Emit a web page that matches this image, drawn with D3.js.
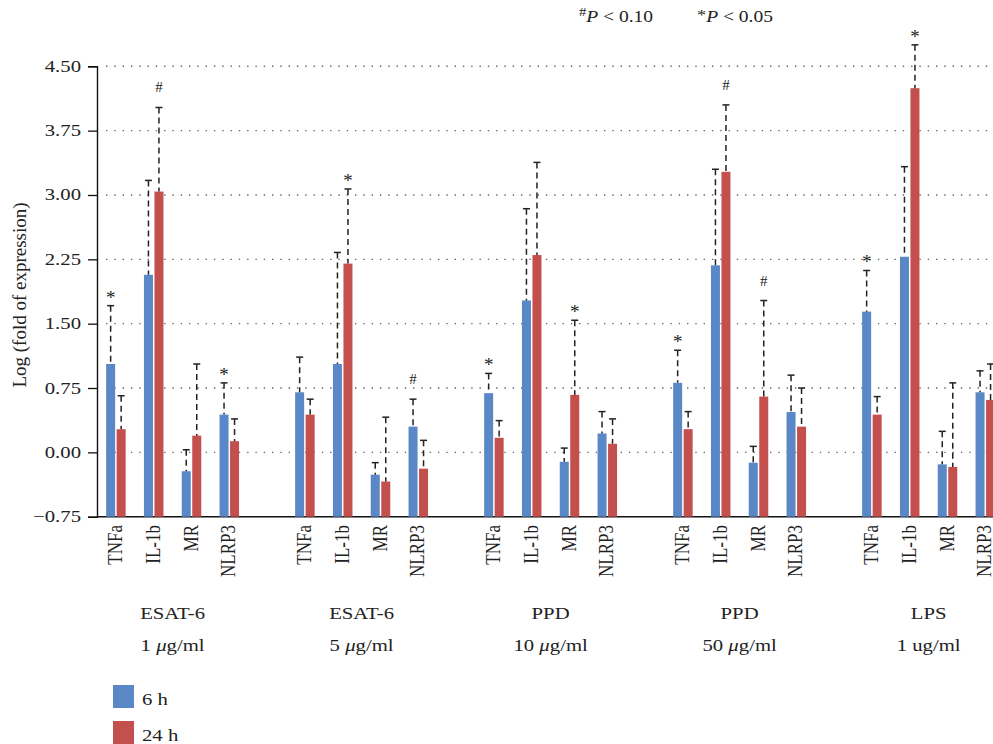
<!DOCTYPE html>
<html>
<head>
<meta charset="utf-8">
<script src="https://cdn.jsdelivr.net/npm/d3@7"></script>
<style>
  body { margin: 0; background: #fff; }
  text { font-family: "Liberation Serif", "DejaVu Serif", serif; fill: #222; }
</style>
</head>
<body>
<svg id="chart" width="993" height="744"></svg>
<script>
// groups (stimulus / dose) and genes
const groupNames = ["ESAT-6", "ESAT-6", "PPD", "PPD", "LPS"];
const groupDoses = ["1 μg/ml", "5 μg/ml", "10 μg/ml", "50 μg/ml", "1 ug/ml"];
const genes = ["TNFa", "IL-1b", "MR", "NLRP3"];
const series = ["6 h", "24 h"];
const yTicks = [-0.75, 0, 0.75, 1.5, 2.25, 3, 3.75, 4.5];

// mean log fold, one row per group, one value per gene
const mean6h = [
  [1.03, 2.07, -0.22, 0.44],
  [0.70, 1.03, -0.26, 0.30],
  [0.69, 1.77, -0.11, 0.22],
  [0.81, 2.18, -0.12, 0.47],
  [1.64, 2.28, -0.14, 0.70]
];
const mean24h = [
  [0.27, 3.04, 0.195, 0.13],
  [0.44, 2.20, -0.34, -0.19],
  [0.17, 2.30, 0.67, 0.10],
  [0.27, 3.27, 0.65, 0.30],
  [0.44, 4.245, -0.17, 0.61]
];
// upper error (SD)
const err6h = [
  [0.68, 1.10, 0.25, 0.37],
  [0.41, 1.30, 0.14, 0.32],
  [0.23, 1.07, 0.16, 0.255],
  [0.38, 1.12, 0.19, 0.43],
  [0.48, 1.05, 0.385, 0.25]
];
const err24h = [
  [0.39, 0.98, 0.835, 0.26],
  [0.18, 0.87, 0.75, 0.33],
  [0.20, 1.08, 0.87, 0.29],
  [0.205, 0.78, 1.12, 0.45],
  [0.21, 0.505, 0.98, 0.42]
];
// significance marks
const sig6h = [
  ["*", "", "", "*"],
  ["", "", "", "#"],
  ["*", "", "", ""],
  ["*", "", "", ""],
  ["*", "", "", ""]
];
const sig24h = [
  ["", "#", "", ""],
  ["", "*", "", ""],
  ["", "", "*", ""],
  ["", "#", "#", ""],
  ["", "*", "", ""]
];

const colors = ["#5A87C5", "#C4504E"];
const SX = 1.22; // horizontal stretch of the lettering

const svg = d3.select("#chart");
const mLeft = 97, mTop = 66.3, mBottom = 516.7;

const groupKeys = groupNames.map((d, i) => "g" + i);
const x0 = d3.scaleBand().domain(groupKeys).range([mLeft, mLeft + 945]);
const slot = x0.bandwidth() / 5;
const x1 = d3.scaleBand().domain(genes).range([0, slot * 4]);
const x2 = d3.scaleBand().domain(series).range([0, slot])
  .paddingInner(0.143).paddingOuter(0.87);
const y = d3.scaleLinear().domain([-0.75, 4.5]).range([mBottom, mTop]);

// flat rows
const rows = [];
groupKeys.forEach((g, gi) => {
  genes.forEach((gene, ci) => {
    rows.push({ g, gene, s: series[0], v: mean6h[gi][ci], e: err6h[gi][ci], sig: sig6h[gi][ci], c: colors[0] });
    rows.push({ g, gene, s: series[1], v: mean24h[gi][ci], e: err24h[gi][ci], sig: sig24h[gi][ci], c: colors[1] });
  });
});

function htext(sel, x, yy, str, size, anchor) {
  return sel.append("text")
    .attr("transform", "translate(" + x + "," + yy + ") scale(" + SX + ",1)")
    .attr("text-anchor", anchor || "start")
    .attr("font-size", size + "px")
    .text(str);
}

// dotted grid
svg.append("g").selectAll("line")
  .data(yTicks.filter(t => t > -0.75))
  .join("line")
  .attr("x1", mLeft + 9).attr("x2", 993)
  .attr("y1", d => y(d)).attr("y2", d => y(d))
  .attr("stroke", "#666")
  .attr("stroke-width", 1.4)
  .attr("stroke-dasharray", "1.4 6.9");

// y axis
const yAxis = svg.append("g")
  .attr("transform", "translate(" + mLeft + ",0)")
  .call(d3.axisLeft(y).tickValues(yTicks).tickSize(9).tickFormat(""));
yAxis.select(".domain").attr("stroke", "#111").attr("stroke-width", 1.4);
yAxis.selectAll(".tick line").attr("stroke", "#111").attr("stroke-width", 1.3);
yAxis.selectAll(".tick").each(function(d) {
  const lab = d < 0 ? "\u22120.75" : d3.format(".2f")(d);
  htext(svg, mLeft - 16, y(d) + 5.5, lab, 17, "end");
});

// x axis base line
svg.append("line")
  .attr("x1", mLeft).attr("x2", 993)
  .attr("y1", mBottom).attr("y2", mBottom)
  .attr("stroke", "#111").attr("stroke-width", 1.6);

// bars
const bx = d => x0(d.g) + x1(d.gene) + x2(d.s);
svg.append("g").selectAll("rect")
  .data(rows)
  .join("rect")
  .attr("x", bx)
  .attr("width", x2.bandwidth())
  .attr("y", d => y(d.v))
  .attr("height", d => mBottom - y(d.v))
  .attr("fill", d => d.c);

// error bars
const eb = svg.append("g");
const cx = d => bx(d) + x2.bandwidth() / 2;
eb.selectAll("line.err")
  .data(rows)
  .join("line")
  .attr("class", "err")
  .attr("x1", cx).attr("x2", cx)
  .attr("y1", d => y(d.v + d.e)).attr("y2", d => y(d.v))
  .attr("stroke", "#222").attr("stroke-width", 1.5)
  .attr("stroke-dasharray", "6 4");
eb.selectAll("line.cap")
  .data(rows)
  .join("line")
  .attr("class", "cap")
  .attr("x1", d => cx(d) - 3.5).attr("x2", d => cx(d) + 3.5)
  .attr("y1", d => y(d.v + d.e)).attr("y2", d => y(d.v + d.e))
  .attr("stroke", "#222").attr("stroke-width", 1.5);

// significance marks
eb.selectAll("text.sig")
  .data(rows.filter(d => d.sig))
  .join("text")
  .attr("class", "sig")
  .attr("text-anchor", "middle")
  .attr("x", cx)
  .attr("y", d => y(d.v + d.e) - (d.sig === "*" ? 2 : 15))
  .attr("font-size", d => d.sig === "*" ? "19px" : "15px")
  .text(d => d.sig);

// gene labels
rows.filter(d => d.s === series[0]).forEach(d => {
  svg.append("text")
    .attr("transform", "translate(" + (x0(d.g) + x1(d.gene) + slot / 2 + 6) + ",525) scale(" + SX + ",1) rotate(-90)")
    .attr("text-anchor", "end")
    .attr("font-size", "17px")
    .text(d.gene);
});

// group labels
groupKeys.forEach((g, i) => {
  const gx = x0(g) + slot * 2;
  htext(svg, gx, 619, groupNames[i], 17, "middle");
  const t = htext(svg, gx, 651, "", 17, "middle");
  groupDoses[i].split(/(μ)/).forEach(part => {
    if (!part) return;
    t.append("tspan").attr("font-style", part === "μ" ? "italic" : null).text(part);
  });
});

// y title
svg.append("text")
  .attr("transform", "translate(26,295) rotate(-90)")
  .attr("text-anchor", "middle")
  .attr("font-size", "19px")
  .text("Log (fold of expression)");

// significance key
const keys = [{ m: "#", p: "0.10", x: 579 }, { m: "*", p: "0.05", x: 697 }];
keys.forEach(k => {
  const t = htext(svg, k.x, 22, "", 16, "start");
  t.append("tspan").attr("font-size", k.m === "#" ? "12px" : "15px").attr("dy", k.m === "#" ? -6 : -2).text(k.m);
  t.append("tspan").attr("dy", k.m === "#" ? 6 : 2).attr("font-style", "italic").text("P");
  t.append("tspan").text(" < " + k.p);
});

// legend
series.forEach((s, i) => {
  svg.append("rect")
    .attr("x", 113).attr("y", 685 + i * 36)
    .attr("width", 21).attr("height", 23)
    .attr("fill", colors[i]);
  htext(svg, 142, 705 + i * 36, s, 17, "start");
});
</script>
</body>
</html>
